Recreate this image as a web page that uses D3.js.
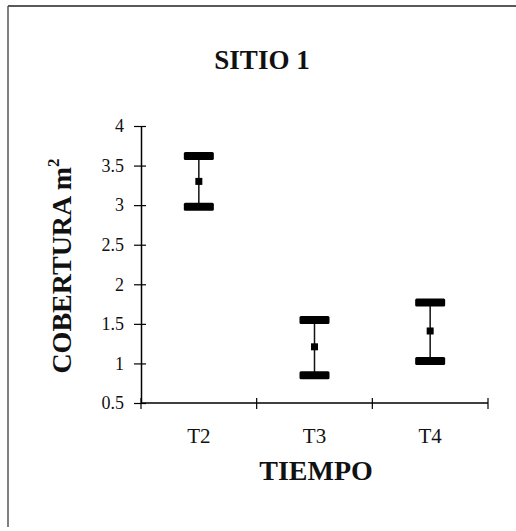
<!DOCTYPE html>
<html>
<head>
<meta charset="utf-8">
<script src="https://cdn.jsdelivr.net/npm/d3@7"></script>
<style>
body { margin:0; background:#fff; }
text { font-family: "Liberation Serif", "Times New Roman", serif; fill:#111; }
</style>
</head>
<body>
<svg id="chart" width="516" height="531"></svg>
<script>
var categories = ['T2', 'T3', 'T4'];
var means = [3.30, 1.21, 1.41];
var upper = [3.62, 1.55, 1.77];
var lower = [2.98, 0.85, 1.03];
var yTicks = [0.5, 1, 1.5, 2, 2.5, 3, 3.5, 4];

var svg = d3.select('#chart');

// frame (only top and left edges visible in the scan)
svg.append('line').attr('x1', 8).attr('y1', 6).attr('x2', 516).attr('y2', 6)
	.attr('stroke', '#222').attr('stroke-width', 1.5);
svg.append('line').attr('x1', 8).attr('y1', 6).attr('x2', 8).attr('y2', 527)
	.attr('stroke', '#555').attr('stroke-width', 1.5);

var plotLeft = 141, plotRight = 488, plotTop = 126, plotBottom = 403;

var x = d3.scaleBand().domain(categories).range([plotLeft, plotRight]);
var y = d3.scaleLinear().domain([0.5, 4]).range([plotBottom, plotTop]);

//Y axis
var yAxis = d3.axisLeft(y).tickValues(yTicks).tickSize(0).tickPadding(17)
	.tickFormat(function(d){ return d; });
var gy = svg.append('g').attr('transform', 'translate(' + plotLeft + ',0)').call(yAxis);
gy.select('.domain').attr('stroke', '#000').attr('stroke-width', 1.5);
gy.selectAll('text').style('font-size', '18px').attr('font-family', '"Liberation Serif", serif').attr('fill', '#111');
gy.selectAll('.tick').append('line').attr('x1', -7).attr('x2', 5).attr('stroke', '#000').attr('stroke-width', 1.2);

//X axis
var gx = svg.append('g').attr('transform', 'translate(0,' + plotBottom + ')');
gx.append('line').attr('x1', plotLeft).attr('x2', plotRight).attr('stroke', '#000').attr('stroke-width', 1.5);
var edges = categories.map(function(c){ return x(c); }).concat([plotRight]);
gx.selectAll('.xt').data(edges).enter().append('line')
	.attr('x1', function(d){ return d; }).attr('x2', function(d){ return d; })
	.attr('y1', -5).attr('y2', 6).attr('stroke', '#000').attr('stroke-width', 1.2);
gx.selectAll('.xl').data(categories).enter().append('text')
	.attr('x', function(d){ return x(d) + x.bandwidth()/2; })
	.attr('y', 40).attr('text-anchor', 'middle').style('font-size', '21px')
	.text(function(d){ return d; });

//Error bars
var g = svg.append('g');
categories.forEach(function(c, i){
	var cx = x(c) + x.bandwidth()/2;
	g.append('line').attr('x1', cx).attr('x2', cx)
		.attr('y1', y(upper[i])).attr('y2', y(lower[i]))
		.attr('stroke', '#111').attr('stroke-width', 1.5);
	[upper[i], lower[i]].forEach(function(v){
		g.append('rect').attr('x', cx - 15).attr('y', y(v) - 4)
			.attr('width', 30).attr('height', 8).attr('rx', 1.5).attr('fill', '#000');
	});
	g.append('rect').attr('x', cx - 3.5).attr('y', y(means[i]) - 3.5)
		.attr('width', 7).attr('height', 7).attr('fill', '#000');
});

//Titles
svg.append('text').attr('x', 262).attr('y', 69).attr('text-anchor', 'middle')
	.style('font-size', '27px').style('font-weight', 'bold').text('SITIO 1');
svg.append('text').attr('x', 316).attr('y', 480).attr('text-anchor', 'middle')
	.style('font-size', '28px').style('font-weight', 'bold').text('TIEMPO');
var yl = svg.append('text').attr('transform', 'translate(71,266) rotate(-90)')
	.attr('text-anchor', 'middle').style('font-size', '28px').style('font-weight', 'bold');
yl.append('tspan').text('COBERTURA m');
yl.append('tspan').attr('dy', -12).style('font-size', '17px').text('2');
</script>
</body>
</html>
